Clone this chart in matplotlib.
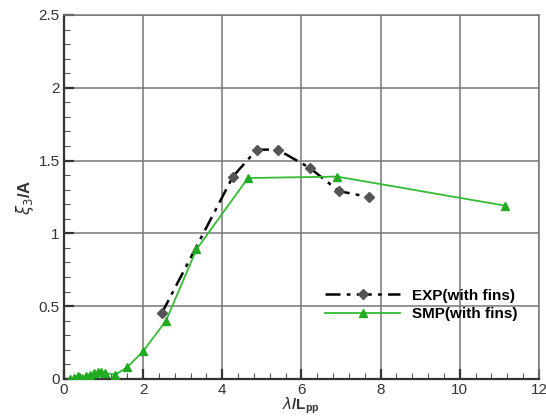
import numpy as np
import matplotlib.pyplot as plt
from matplotlib.ticker import MultipleLocator

plt.rcParams['font.family'] = ['Liberation Sans', 'DejaVu Sans']

# EXP (with fins)
exp_x = [2.47, 4.27, 4.87, 5.4, 6.21, 6.95, 7.7]
exp_y = [0.45, 1.39, 1.575, 1.575, 1.45, 1.29, 1.25]

# SMP (with fins)
smp_x = [0.15, 0.25, 0.35, 0.45, 0.55, 0.65, 0.75, 0.85, 0.95, 1.05, 1.3, 1.6,
         2.0, 2.58, 3.35, 4.65, 6.9, 11.15]
smp_y = [0.0, 0.01, 0.02, 0.01, 0.02, 0.03, 0.04, 0.05, 0.05, 0.04, 0.03, 0.08,
         0.19, 0.40, 0.89, 1.38, 1.39, 1.19]

xticks = [0, 2, 4, 6, 8, 10, 12]
yticks = [0, 0.5, 1, 1.5, 2, 2.5]

fig = plt.figure(figsize=(5.46, 4.16), dpi=100)
ax = fig.add_axes([0.117, 0.089, 0.87, 0.875])

ax.plot(exp_x, exp_y, color='black', linestyle=(0, (6, 2.5, 1.5, 2.5)), linewidth=1.8,
        marker='D', markersize=5, markerfacecolor='#555555', markeredgecolor='#555555',
        label='EXP(with fins)', zorder=3)
ax.plot(smp_x, smp_y, color='#33bb33', linestyle='-', linewidth=1.3,
        marker='^', markersize=6, markerfacecolor='#22aa22', markeredgecolor='#22aa22',
        label='SMP(with fins)', zorder=4)

ax.set_xticks(xticks)
ax.set_xticklabels([str(t) for t in xticks])
ax.set_yticks(yticks)
ax.set_yticklabels(['0', '0.5', '1', '1.5', '2', '2.5'])
ax.xaxis.set_minor_locator(MultipleLocator(0.4))
ax.yaxis.set_minor_locator(MultipleLocator(0.1))
ax.set_xlim(0, 12)
ax.set_ylim(0, 2.5)

ax.grid(True, which='major', color='#777777', linewidth=1.1)
ax.tick_params(which='major', direction='in', length=7, width=1.6, color='#333333',
               labelsize=11, labelcolor='#333333', pad=3)
ax.tick_params(which='minor', direction='in', length=4, width=0.8, color='#555555')
for s in ['left', 'bottom']:
    ax.spines[s].set_linewidth(1.6)
    ax.spines[s].set_color('#333333')
for s in ['top', 'right']:
    ax.spines[s].set_linewidth(1.1)
    ax.spines[s].set_color('#777777')

ax.set_xlabel(r'$\lambda$/L$_{\mathregular{pp}}$', fontsize=11, fontweight='bold',
              color='#333333', labelpad=-1)
ax.set_ylabel(r'$\xi_3$/A', fontsize=12, fontweight='bold', color='#333333', labelpad=2)

ax.legend(loc='upper left', bbox_to_anchor=(0.55, 0.248), frameon=False,
          borderpad=0, borderaxespad=0, handlelength=4.9, handletextpad=0.8,
          labelspacing=0.3, prop={'weight': 'bold', 'size': 11})

fig.savefig('out.png', dpi=100)
